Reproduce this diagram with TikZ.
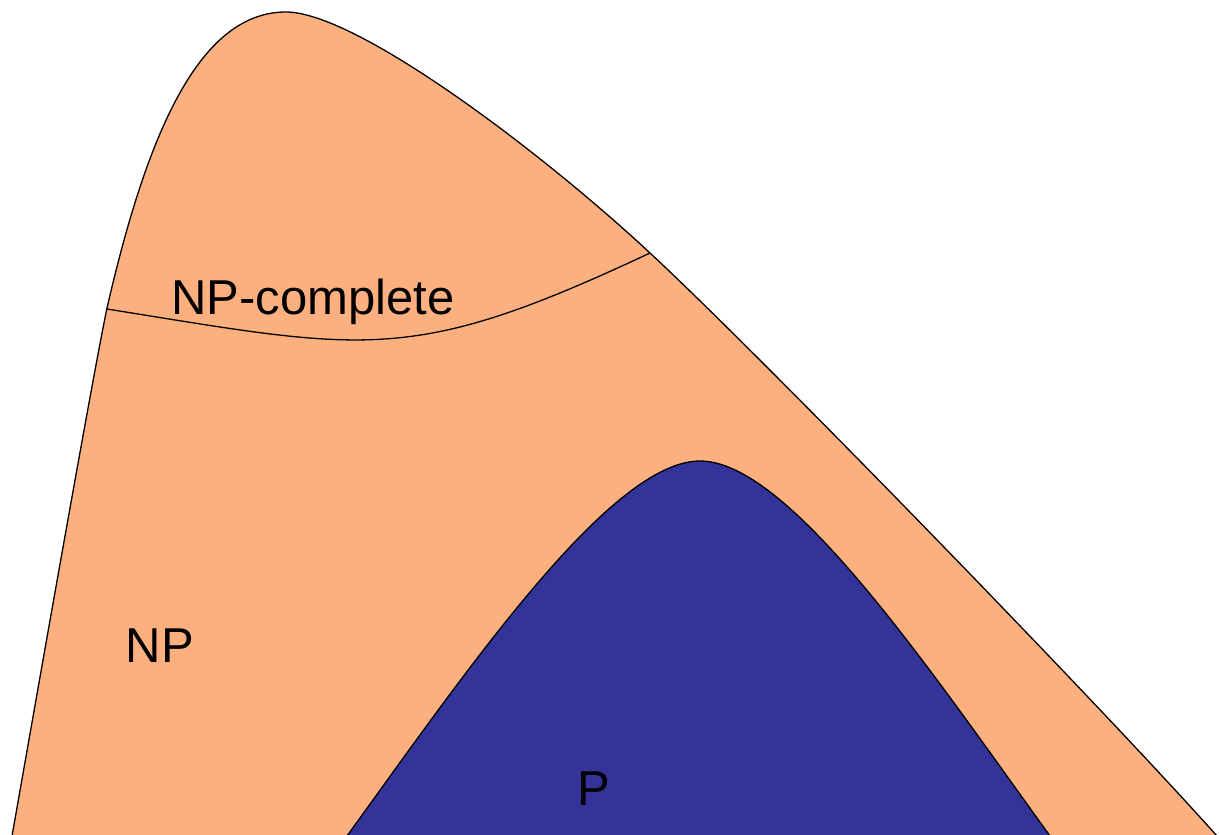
\documentclass[tikz,border=0pt]{standalone}
\usepackage{fontspec}
\setmainfont{Liberation Sans}
\definecolor{nporange}{HTML}{FDB07F}
\definecolor{pblue}{HTML}{333399}
\tikzset{
  region/.style={draw=black, line width=1.3pt, line join=round},
  label/.style={anchor=base, inner sep=0pt, font=\fontsize{49}{59}\selectfont},
}
\begin{document}
\begin{tikzpicture}[x=1pt,y=-1pt]
\useasboundingbox (0,0) rectangle (1219,835);
% NP region
\path[region, fill=nporange]
  (12,836) .. controls (22,780) and (90,390) .. (107,308)
  .. controls (145,143) and (196,12) .. (286,12)
  .. controls (356,12) and (540.5,151) .. (650,253)
  .. controls (760,355) and (1100,705) .. (1217,836) -- cycle;
% NP-complete boundary
\draw[region] (107,309) .. controls (367,350.6) and (410,365.8) .. (650,253);
% P region
\path[region, fill=pblue]
  (347,836) .. controls (465,673) and (610,461) .. (700,461)
  .. controls (790,461) and (932,673) .. (1050,836) -- cycle;
% labels
\node[label] (npc) at (313,314) {NP-complete};
\node[label] (np) at (160,662) {NP};
\node[label] (p) at (594,805) {P};
\end{tikzpicture}
\end{document}
